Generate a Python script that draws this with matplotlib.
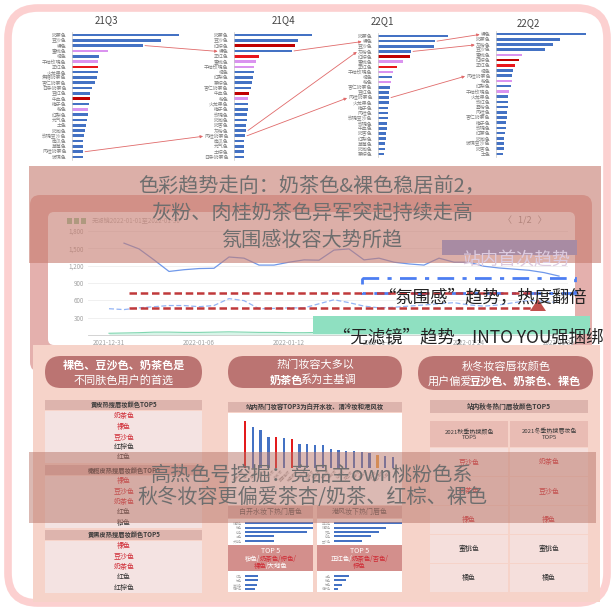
import numpy as np
import matplotlib.pyplot as plt
from matplotlib.patches import FancyBboxPatch, Rectangle, Polygon
from matplotlib.offsetbox import TextArea, HPacker, AnnotationBbox

plt.rcParams['font.family'] = ['Noto Sans CJK SC', 'DejaVu Sans']

W, H = 615, 610

# ---- top: ranked lip colours per quarter (bar length read in px) ----
quarters = ['21Q3', '21Q4', '22Q1', '22Q2']
q3_names = ['奶茶色', '豆沙色', '裸色', '蜜桃色', '橘色', '干枯玫瑰色', '正红色', '火龙果色',
            '焦糖奶茶色', '杏仁奶茶色', '日杂奶茶色', '豆红色', '牛血色', '梅子色', '粉色', '红梨色',
            '元气色', '土色', '奶咖色', '玫瑰豆沙色', '南瓜色', '草莓色', '肉桂奶茶色', '玻璃色']
q3_vals = [107, 89, 71, 36, 27, 26, 26, 26, 25, 23, 20, 18, 18, 17, 16, 16, 15, 14, 13, 12, 11, 11, 11, 11]
q3_kind = 'bbbvbvrbbbbbdbvbbbbbbbbb'
q4_names = ['奶茶色', '豆沙色', '红棕色', '裸色', '正红色', '蜜桃色', '干枯玫瑰色', '橘色',
            '红梨色', '茶棕色', '杏仁奶茶色', '牛血色', '粉色', '火龙果色', '梅子色', '玫瑰色',
            '奶咖色', '奶杏色', '灰粉色', '肉桂奶茶色', '南瓜色', '元气色', '土棕色', '日杂奶茶色']
q4_vals = [78, 64, 61, 58, 25, 22, 20, 20, 19, 18, 17, 15, 14, 14, 14, 13, 13, 12, 12, 11, 10, 10, 10, 10]
q4_kind = 'bbdbrvvbbbbdvbbbbbbbbbbb'
q1_names = ['奶茶色', '裸色', '豆沙色', '灰粉色', '红棕色', '蜜桃色', '正红色', '干枯玫瑰色',
            '橘色', '粉色', '杏仁奶茶色', '豆红色', '肉桂奶茶色', '火龙果色', '梅子色', '肉桂色',
            '玫瑰豆沙色', '玫瑰色', '牛血色', '奶杏色', '红梨色', '草莓色', '奶咖色', '茶棕色']
q1_vals = [70, 57, 56, 33, 32, 25, 19, 15, 14, 13, 12, 11, 11, 11, 10, 10, 10, 9, 9, 8, 8, 7, 7, 6]
q1_kind = 'bbbbdvrvbvbbbbbbbbbbbbbb'
q2_names = ['裸色', '奶茶色', '灰粉色', '豆沙色', '蜜桃色', '红棕色', '正红色', '橘色',
            '肉桂奶茶色', '粉色', '红梨色', '干枯玫瑰色', '火龙果色', '玫红色', '雾粉色', '肉桂色',
            '杏仁奶茶色', '梅子色', '玫瑰色', '红茶色', '奶咖色', '玻璃豆沙色', '奶杏色', '土色']
q2_vals = [90, 64, 57, 49, 26, 23, 19, 17, 16, 16, 15, 13, 12, 12, 12, 11, 11, 10, 10, 9, 8, 8, 8, 7]
q2_kind = 'bbbbvdrbbvbvbbbbbbbbbbbb'
kind_colors = {'b': '#4472c4', 'v': '#da93ef', 'r': '#e8161b', 'd': '#c00000'}

moves = [('21Q3', '裸色', '21Q4'), ('21Q3', '肉桂奶茶色', '21Q4'),
         ('21Q4', '裸色', '22Q1'), ('21Q4', '灰粉色', '22Q1'), ('21Q4', '肉桂奶茶色', '22Q1'),
         ('22Q1', '裸色', '22Q2'), ('22Q1', '灰粉色', '22Q2'), ('22Q1', '肉桂奶茶色', '22Q2')]

# ---- middle: search trend ----
tick_dates = ['2021-12-31', '2022-01-06', '2022-01-12', '2022-01-18', '2022-01-24', '2022-01-30']
trend_solid = [np.nan, 1590, 1490, 1300, 1100, 1130, 1150, 1155, 1350, 1330, 1210, 1210, 1260, 1300, 1295,
               1470, 1490, 1300, 1330, 1260, 1230, 1210, 1330, 1260, 1260, 1190, 1160, 1140, 1120, 1080, 1020]
trend_dashed = [455, 440, 470, 490, 510, 510, 490, 510, 630, 595, 455, 460, 470, 470, 540, 610,
                560, 500, 470, 480, 500, 520, 540, 560, 520, 500, 520, 560, 600, 580, 560]
trend_green = [30, 35, 40, 50, 50, 45, 45, 50, 55, 50, 45, 45, 40, 40, 45, 50,
               45, 40, 40, 40, 45, 45, 40, 40, 45, 40, 40, 40, 45, 40, 40]

# ---- bottom ----
skin_titles = ['黄皮热搜唇妆颜色TOP5', '橄榄皮热搜唇妆颜色TOP5', '黄黑皮热搜唇妆颜色TOP5']
skin_top5 = [['奶茶色', '裸色', '豆沙色', '红棕色', '红色'],
             ['裸色', '豆沙色', '奶茶色', '红色', '粉色'],
             ['裸色', '豆沙色', '奶茶色', '红色', '红棕色']]
look_names = ['白开水妆', '清冷妆', '港风妆', '纯欲妆', '元气妆', '韩系妆', '氛围感妆', '伪素颜妆', '日系妆',
              '欧美妆', '复古妆', '甜酷妆', '泰式妆', '仙女妆', '妈生妆', '截断妆', '辣妹妆', '落日妆',
              '野生眉妆', '小狗妆']
look_vals = [47, 41, 38, 31, 31, 30, 29, 24, 24, 23, 23, 19, 18, 17, 17, 16, 15, 13, 12, 11]
look_kind = 'rbbbrbrbbbbbbbbbbobb'
sub_titles = ['白开水妆下热门唇色', '港风妆下热门唇色']
sub_names_up = [['奶茶色', '粉色', '棕色', '裸色', '大地色'], ['正红色', '奶茶色', '杏色', '棕色', '豆沙色']]
sub_vals_up = [[70, 68, 62, 29, 29], [74, 52, 45, 37, 28]]
sub_names_low = [['红色', '橘色', '蜜桃色', '梅子色'], ['裸色', '粉色', '橘色', '梅子色']]
sub_vals_low = [[13, 13, 12, 10], [15, 12, 8, 4]]
season_cols = ['2021秋季热搜颜色\nTOP5', '2021冬季热搜唇妆色\nTOP5']
autumn_top5 = ['豆沙色', '奶茶色', '裸色', '蜜桃色', '橘色']
winter_top5 = ['奶茶色', '豆沙色', '裸色', '蜜桃色', '橘色']

RED = '#cf2a34'
fig = plt.figure(figsize=(W / 100, H / 100), dpi=100)


def px_axes(x0, y0, x1, y1, z=1):
    ax = fig.add_axes([x0 / W, 1 - y1 / H, (x1 - x0) / W, (y1 - y0) / H])
    ax.set_zorder(z)
    ax.patch.set_alpha(0)
    return ax


def box(ax, x0, y0, x1, y1, fc, r=0, z=1, ec='none', lw=0, alpha=1):
    style = f'round,pad=0,rounding_size={r}' if r else 'square,pad=0'
    p = FancyBboxPatch((x0, y0), x1 - x0, y1 - y0, boxstyle=style, fc=fc, ec=ec, lw=lw, zorder=z, alpha=alpha)
    ax.add_patch(p)
    return p


def mixed(ax, x, y, parts, size, z=4):
    kids = [TextArea(t, textprops=dict(color=c, fontsize=size, fontweight=w)) for t, c, w in parts]
    ab = AnnotationBbox(HPacker(children=kids, align='baseline', pad=0, sep=0), (x, y),
                        frameon=False, box_alignment=(0.5, 0.5), pad=0)
    ab.set_zorder(z)
    ax.add_artist(ab)


def split_line(ax, xs, y, left, right, size, z=4):
    # the two halves of a pill line meet at xs (bold glyph boxes carry a little side space)
    ax.text(xs + 1.5, y, left[0], ha='right', va='center', fontsize=size, color='white', fontweight=left[1], zorder=z)
    ax.text(xs - 1.5, y, right[0], ha='left', va='center', fontsize=size, color='white', fontweight=right[1], zorder=z)


bg = px_axes(0, 0, W, H, z=-1)
bg.set_xlim(0, W)
bg.set_ylim(H, 0)
bg.axis('off')
ov = px_axes(0, 0, W, H, z=10)
ov.set_xlim(0, W)
ov.set_ylim(H, 0)
ov.axis('off')

# outer frame
box(bg, 8, 8, 607, 603, 'white', r=30, ec='#fcd0d0', lw=5.5)

# ---- ranked bars ----
rank_place = {'21Q3': (72, 35, 157, 120, 106, 20), '21Q4': (234, 35, 157, 82, 283, 20),
              '22Q1': (378, 36, 154, 90, 382, 21), '22Q2': (496, 34, 154, 95, 528, 23)}
rank_data = {'21Q3': (q3_names, q3_vals, q3_kind), '21Q4': (q4_names, q4_vals, q4_kind),
             '22Q1': (q1_names, q1_vals, q1_kind), '22Q2': (q2_names, q2_vals, q2_kind)}
rank_axes = {}
for q in quarters:
    x0, first, last, wid, tx, ty = rank_place[q]
    names, vals, kind = rank_data[q]
    step = (last - first) / (len(names) - 1)
    ax = px_axes(x0, first - step / 2, x0 + wid, last + step / 2)
    ax.barh(range(len(vals)), vals, height=0.5, color=[kind_colors[k] for k in kind])
    ax.set_ylim(len(vals) - 0.5, -0.5)
    ax.set_xlim(0, wid)
    ax.set_yticks(range(len(names)))
    ax.set_yticklabels(names, fontsize=3.5, color='#808080')
    ax.set_xticks([])
    ax.tick_params(length=0, pad=4)
    for s in ['top', 'right', 'bottom']:
        ax.spines[s].set_visible(False)
    ax.spines['left'].set_color('#c8c8c8')
    ax.spines['left'].set_linewidth(0.5)
    bg.text(tx, ty, q, ha='center', va='center', fontsize=7, color='#444444')
    rank_axes[q] = ax

# ---- middle card with trend chart ----
box(bg, 30, 195, 592, 372, '#e4b0ad', r=10)
box(bg, 48, 212, 575, 345, 'white', r=6, z=2)
lc = px_axes(88, 215, 568, 335)
days = np.arange(len(trend_dashed))
lc.plot(days, trend_solid, color='#7099ea', lw=0.9)
lc.plot(days, trend_dashed, color='#93b4f5', lw=0.9, ls=(0, (4, 2)))
lc.fill_between(days, trend_green, color='#bfeeda', alpha=0.6, lw=0)
lc.plot(days, trend_green, color='#7fd6b0', lw=0.8)
lc.set_xlim(-1.4, 30.6)
lc.set_ylim(0, 2077)
lc.set_yticks([300, 600, 900, 1200, 1500, 1800])
lc.set_yticklabels(['300', '600', '900', '1,200', '1,500', '1,800'], fontsize=4.5, color='#a0a0a0')
lc.set_xticks(np.arange(0, 31, 6))
lc.set_xticklabels(tick_dates, fontsize=4.5, color='#a0a0a0')
lc.tick_params(length=0, pad=3)
lc.grid(axis='y', color='#eeeeee', lw=0.6)
for s in ['top', 'right', 'left']:
    lc.spines[s].set_visible(False)
lc.spines['bottom'].set_color('#cccccc')
lc.spines['bottom'].set_linewidth(0.6)
for gx in [69, 76, 83]:
    box(bg, gx - 2.5, 218, gx + 2.5, 224, '#8fc79a', z=3)
bg.text(92, 221, '无滤镜2022-01-01至2022-01-30', fontsize=4.5, color='#b0b0b0', va='center', zorder=3)
bg.text(525, 221, '〈   1/2   〉', fontsize=6.5, color='#909090', ha='center', va='center', zorder=3)

# ---- bottom panel ----
box(bg, 33, 345, 600, 602, '#f6d3c9', z=2)
pill = '#bb7472'
box(bg, 45, 356, 202, 388, pill, r=16, z=3)
box(bg, 228, 356, 402, 388, pill, r=16, z=3)
box(bg, 418, 356, 593, 390, pill, r=17, z=3)
bg.text(124, 365, '裸色、豆沙色、奶茶色是', ha='center', va='center', fontsize=8, color='white', fontweight='bold', zorder=4)
bg.text(124, 380, '不同肤色用户的首选', ha='center', va='center', fontsize=8, color='white', zorder=4)
bg.text(315, 365, '热门妆容大多以', ha='center', va='center', fontsize=8, color='white', zorder=4)
split_line(bg, 302, 380, ('奶茶色', 'bold'), ('系为主基调', 'normal'), 8)
bg.text(506, 366, '秋冬妆容唇妆颜色', ha='center', va='center', fontsize=8, color='white', zorder=4)
split_line(bg, 471, 381, ('用户偏爱', 'normal'), ('豆沙色、奶茶色、裸色', 'bold'), 8)

# skin tone tables
for k, (title, top5) in enumerate(zip(skin_titles, skin_top5)):
    hc = 405 + 65 * k
    box(bg, 45, hc - 5, 202, hc + 5, '#ddb4ad', z=3)
    bg.text(124, hc, title, ha='center', va='center', fontsize=4.5, fontweight='bold', color='#3a3a3a', zorder=4)
    box(bg, 45, hc + 5.5, 202, hc + 58, '#f4e3e2', z=3)
    for j, name in enumerate(top5):
        bg.text(124, hc + 11 + 10.5 * j, name, ha='center', va='center', fontsize=5,
                color=RED if j < 3 else '#333333', zorder=4)

# hot looks
box(bg, 228, 402, 402, 412, '#ddb4ad', z=3)
bg.text(315, 407, '站内热门妆容TOP3为白开水妆、清冷妆和港风妆', ha='center', va='center', fontsize=4.6,
        fontweight='bold', color='#3a3a3a', zorder=4)
box(bg, 228, 413, 402, 505, 'white', z=3)
bc = px_axes(238, 415, 400, 468, z=2)
look_colors = {'r': '#e31a1c', 'b': '#4472c4', 'o': '#f0a646'}
bc.bar(range(len(look_vals)), look_vals, width=0.3, color=[look_colors[k] for k in look_kind])
bc.set_xlim(-0.9, len(look_vals) - 0.1)
bc.set_ylim(0, 53)
bc.set_xticks(range(len(look_names)))
bc.set_xticklabels(look_names, rotation=45, ha='right', fontsize=2.6, color='#a0a0a0')
bc.set_yticks([])
bc.tick_params(length=0, pad=1)
for s in ['top', 'right', 'left', 'bottom']:
    bc.spines[s].set_visible(False)

top5_lines = [[[('粉色/', 'white', 'normal'), ('奶茶色/棕色/', RED, 'normal')],
               [('裸色', RED, 'normal'), ('/大地色', 'white', 'normal')]],
              [[('正红色/', 'white', 'normal'), ('奶茶色/杏色/', RED, 'normal')],
               [('棕色', RED, 'normal')]]]
for k in range(2):
    x0 = 228 + 89 * k
    x1 = x0 + 85
    cx = (x0 + x1) / 2
    box(bg, x0, 506, x1, 518, '#ddb4ad', z=3)
    bg.text(cx, 512, sub_titles[k], ha='center', va='center', fontsize=5, color='#555555', zorder=4)
    box(bg, x0, 519, x1, 592, 'white', z=3)
    for (ya, yb, names, vals) in [(521, 543, sub_names_up[k], sub_vals_up[k]),
                                  (574, 591, sub_names_low[k], sub_vals_low[k])]:
        sa = px_axes(x0 + 17, ya, x1, yb, z=2)
        sa.barh(range(len(vals)), vals, height=0.45, color='#4472c4')
        sa.set_ylim(len(vals) - 0.5, -0.5)
        sa.set_xlim(0, x1 - x0 - 17)
        sa.set_yticks(range(len(names)))
        sa.set_yticklabels(names, fontsize=2.2, color='#b0b0b0')
        sa.set_xticks([])
        sa.tick_params(length=0, pad=2)
        for s in ['top', 'right', 'left', 'bottom']:
            sa.spines[s].set_visible(False)
    box(bg, x0, 545, x1, 571, '#d38f8c', z=4)
    bg.text(cx, 551, 'TOP 5', ha='center', va='center', fontsize=5, color='white', zorder=5)
    for j, parts in enumerate(top5_lines[k]):
        mixed(bg, cx, 559 + 7 * j, parts, 4.6, z=5)

# autumn / winter table
box(bg, 430, 400, 588, 413, '#ddb4ad', z=3)
bg.text(509, 406.5, '站内秋冬热门唇妆颜色TOP5', ha='center', va='center', fontsize=4.8, fontweight='bold',
        color='#3a3a3a', zorder=4)
for c, (head, col) in enumerate(zip(season_cols, [autumn_top5, winter_top5])):
    x0 = 430 + 80 * c
    x1 = x0 + 78
    box(bg, x0, 421, x1, 447, '#e9bcb4', z=3)
    bg.text((x0 + x1) / 2, 434, head, ha='center', va='center', fontsize=4.3, color='#3a3a3a',
            linespacing=1.1, zorder=4)
    for j, name in enumerate(col):
        y0 = 448 + 29 * j
        box(bg, x0, y0, x1, y0 + 28, '#f5dfdc', z=3)
        bg.text((x0 + x1) / 2, y0 + 14, name, ha='center', va='center', fontsize=5,
                color=RED if j < 3 else '#333333', zorder=4)

# ---- arrows between quarters ----
fig.canvas.draw()
inv = ov.transData.inverted()
for src, name, dst in moves:
    sax, dax = rank_axes[src], rank_axes[dst]
    i = rank_data[src][0].index(name)
    j = rank_data[dst][0].index(name)
    p0 = inv.transform(sax.transData.transform((rank_data[src][1][i] + 2, i)))
    lab = dax.get_yticklabels()[j].get_window_extent()
    p1 = inv.transform((lab.x0 - 1, (lab.y0 + lab.y1) / 2))
    ov.annotate('', xy=p1, xytext=p0, zorder=2,
                arrowprops=dict(arrowstyle='-|>', color='#e06a6a', lw=0.6, mutation_scale=4,
                                shrinkA=0, shrinkB=0))

# ---- translucent headline boxes ----
box(ov, 29, 166, 601, 263, '#c67b6e', z=3, alpha=0.6)
box(ov, 442, 240, 577, 255, '#a88ba3', z=4)
clip = Rectangle((429, 166), 172, 96, transform=ov.transData)
t = ov.text(516, 260, '站内首次趋势', ha='center', va='center', fontsize=13, color='#dccbe0', zorder=4)
t.set_clip_path(clip)
for k, line in enumerate(['色彩趋势走向：奶茶色&裸色稳居前2，', '灰粉、肉桂奶茶色异军突起持续走高', '氛围感妆容大势所趋']):
    ov.text(312, 186 + 27 * k, line, ha='center', va='center', fontsize=14.5, color='#6e6e6e', zorder=5)

ov.add_patch(Rectangle((362, 278), 213, 15, fill=False, ec='#4d7ef2', lw=2, ls=(0, (6, 3, 1.5, 3)), zorder=6))
for yy in [293, 308]:
    ov.plot([129, 535], [yy, yy], color='#c0393b', lw=1.8, ls=(0, (3, 1.5)), zorder=6)
ov.add_patch(Polygon([(530, 311), (546, 311), (538, 299)], closed=True, fc='#c0504d', ec='none', zorder=6))
box(ov, 313, 316, 590, 334, '#8fe0c1', z=6)
ov.text(482, 298, '“氛围感”趋势，热度翻倍', ha='center', va='center', fontsize=12.5, color='#222222', zorder=8)
ov.text(468, 338, '“无滤镜”趋势，INTO YOU强捆绑', ha='center', va='center', fontsize=12.5, color='#222222', zorder=8)

box(ov, 29, 452, 596, 523, '#b87468', z=3, alpha=0.5)
ov.text(312, 475, '高热色号挖掘：竞品主own桃粉色系', ha='center', va='center', fontsize=14.5, color='#6e6e6e', zorder=5)
ov.text(312, 498, '秋冬妆容更偏爱茶杏/奶茶、红棕、裸色', ha='center', va='center', fontsize=14.5, color='#6e6e6e', zorder=5)

fig.savefig('out.png', dpi=100)
